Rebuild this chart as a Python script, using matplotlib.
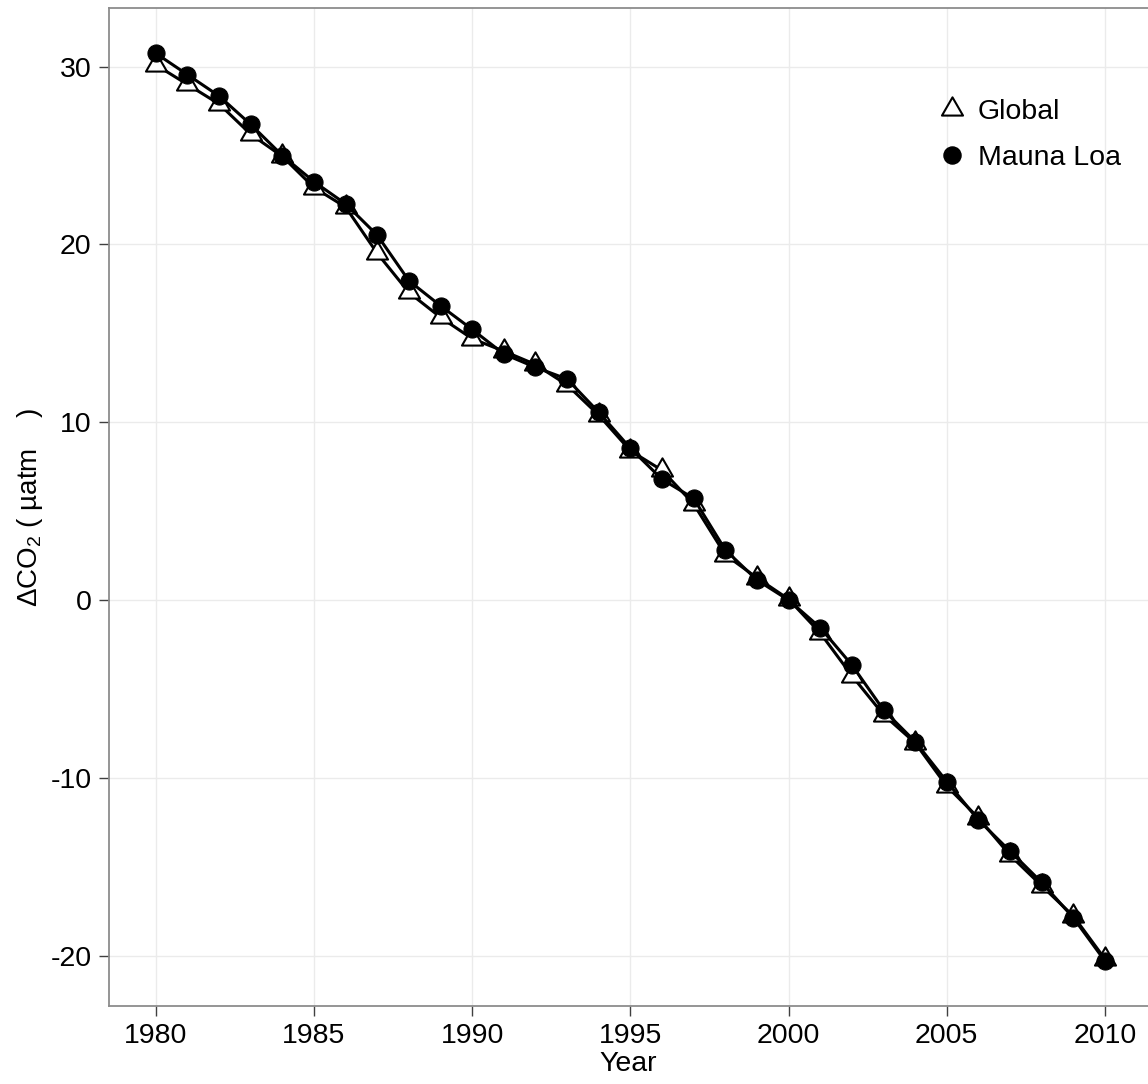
import matplotlib
matplotlib.use("Agg")
import matplotlib.pyplot as plt
from matplotlib.path import Path
from matplotlib.lines import Line2D

plt.rcParams['font.family'] = ['Liberation Sans', 'DejaVu Sans']
plt.rcParams['mathtext.fontset'] = 'custom'
plt.rcParams['mathtext.rm'] = 'Liberation Sans'
plt.rcParams['mathtext.default'] = 'regular'
plt.rcParams['axes.unicode_minus'] = False

years = list(range(1980, 2011))

# Delta CO2 relative to 2000 (uatm)
global_co2 = [30.1, 29.0, 27.9, 26.2, 24.95, 23.2, 22.1, 19.5, 17.3, 15.9,
              14.7, 14.0, 13.25, 12.1, 10.4, 8.4, 7.3, 5.4, 2.55, 1.25,
              0.05, -1.85, -4.25, -6.45, -8.03, -10.47, -12.25, -14.35, -16.07, -17.77,
              -20.19]
mauna_loa = [30.75, 29.55, 28.35, 26.75, 25.0, 23.53, 22.28, 20.52, 17.96, 16.55,
             15.22, 13.84, 13.09, 12.43, 10.56, 8.54, 6.79, 5.72, 2.82, 1.13,
             0.0, -1.55, -3.65, -6.18, -7.96, -10.21, -12.37, -14.12, -15.88, -17.87,
             -20.30]

x_ticks = [1980, 1985, 1990, 1995, 2000, 2005, 2010]
y_ticks = [-20, -10, 0, 10, 20, 30]

# triangle with its centroid at the origin
tri = Path([(0, 1), (-0.866, -0.5), (0.866, -0.5), (0, 1)],
           [Path.MOVETO, Path.LINETO, Path.LINETO, Path.CLOSEPOLY])

fig = plt.figure(figsize=(11.48, 10.84), dpi=100)
ax = fig.add_axes([109 / 1148, 1 - 1006 / 1084, 1 - 109 / 1148, (1006 - 8) / 1084])

ax.plot(years, global_co2, color='black', lw=2.2, zorder=3)
ax.plot(years, global_co2, linestyle='none', marker=tri, ms=17.5,
        mfc='white', mec='black', mew=1.5, zorder=4)
ax.plot(years, mauna_loa, color='black', lw=2.2, zorder=5)
ax.plot(years, mauna_loa, linestyle='none', marker='o', ms=12.3,
        mfc='black', mec='black', mew=0.8, zorder=6)

ax.set_xlim(1978.52, 2011.36)
ax.set_ylim(-22.83, 33.30)
ax.set_xticks(x_ticks)
ax.set_yticks(y_ticks)
ax.grid(True, color='#ebebeb', lw=1.0)
ax.set_axisbelow(True)

for s in ['left', 'bottom', 'top']:
    ax.spines[s].set_color('#8c8c8c')
    ax.spines[s].set_linewidth(1.3)
ax.spines['right'].set_visible(False)

ax.tick_params(axis='both', labelsize=20.5, length=7.5, width=1.0, color='#404040')
ax.tick_params(axis='x', pad=5)
ax.tick_params(axis='y', pad=5)

ax.set_xlabel('Year', fontsize=20.5, labelpad=1)
ax.set_ylabel('ΔCO$_2$ ( µatm    )', fontsize=20)
ax.yaxis.set_label_coords(-0.062, 0.5)

handles = [
    Line2D([], [], linestyle='none', marker=tri, ms=17.5, mfc='white', mec='black', mew=1.5),
    Line2D([], [], linestyle='none', marker='o', ms=12.3, mfc='black', mec='black'),
]
ax.legend(handles, ['Global', 'Mauna Loa'], loc='center left',
          bbox_to_anchor=(924 / 1148, 1 - 135 / 1084), bbox_transform=fig.transFigure,
          frameon=False, fontsize=20.5, borderpad=0, handlelength=1.0,
          handletextpad=0.4, labelspacing=0.7)

fig.savefig('out.png', dpi=100)
